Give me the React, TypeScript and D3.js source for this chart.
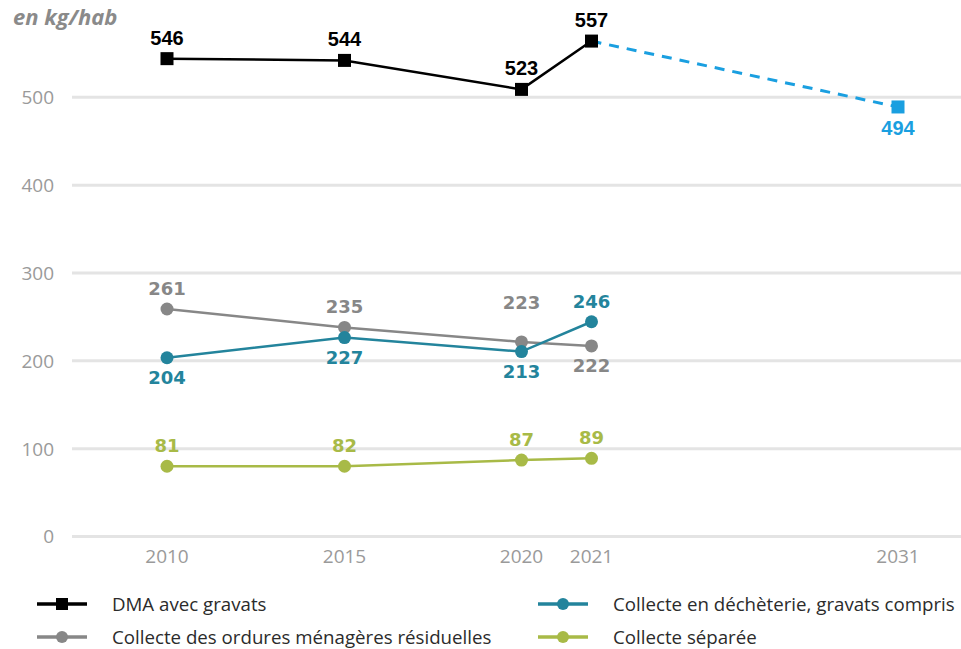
import React from "react";
import * as d3 from "d3";

const years = [2010, 2015, 2020, 2021];
const projYear = 2031;
const xTickYears = [2010, 2015, 2020, 2021, 2031];
const yTicks = [0, 100, 200, 300, 400, 500];

// plotted values and printed labels
const dmaValues = [544, 542, 509, 564];
const dmaLabels = ["546", "544", "523", "557"];
const dmaProj = 489;
const dmaProjLabel = "494";
const omrValues = [259, 238, 221.5, 217];
const omrLabels = ["261", "235", "223", "222"];
const decheterieValues = [203.5, 226.5, 210.5, 244.5];
const decheterieLabels = ["204", "227", "213", "246"];
const separeeValues = [80, 80, 87, 89];
const separeeLabels = ["81", "82", "87", "89"];

const legendNames = [
  "DMA avec gravats",
  "Collecte des ordures ménagères résiduelles",
  "Collecte en déchèterie, gravats compris",
  "Collecte séparée",
];

const W = 961;
const H = 649;

const x = d3
  .scaleLinear()
  .domain(xTickYears)
  .range([167, 344.5, 521.5, 591.5, 898]);
const y = d3.scaleLinear().domain([0, 500]).range([536.5, 97.3]);

const BLACK = "#000000";
const GREY = "#878787";
const TEAL = "#23849c";
const GREEN = "#a8ba47";
const BLUE = "#1a9fe0";

const lineGen = d3
  .line<[number, number]>()
  .x((d) => x(d[0]))
  .y((d) => y(d[1]));

type Series = {
  values: number[];
  labels: string[];
  color: string;
  place: ("a" | "b" | "A")[];
  font: string;
};

const series: Series[] = [
  { values: omrValues, labels: omrLabels, color: GREY, place: ["a", "a", "A", "b"], font: "DejaVu Sans" },
  { values: decheterieValues, labels: decheterieLabels, color: TEAL, place: ["b", "b", "b", "a"], font: "DejaVu Sans" },
  { values: separeeValues, labels: separeeLabels, color: GREEN, place: ["a", "a", "a", "a"], font: "DejaVu Sans" },
];

function labelY(vy: number, p: string) {
  if (p === "a") return vy - 14;
  if (p === "A") return vy - 33;
  return vy + 26;
}

export default function App() {
  const dmaPts: [number, number][] = years.map((yr, i) => [yr, dmaValues[i]]);
  const projPts: [number, number][] = [
    [years[years.length - 1], dmaValues[dmaValues.length - 1]],
    [projYear, dmaProj],
  ];
  return (
    <svg
      width={W}
      height={H}
      style={{ position: "absolute", left: 0, top: 0, background: "#fff" }}
    >
      {/* gridlines */}
      {yTicks.map((t) => (
        <g key={t}>
          <line x1={72} x2={W} y1={y(t)} y2={y(t)} stroke="#e4e4e4" strokeWidth={3} />
          <text
            x={54}
            y={y(t)}
            dy="0.36em"
            textAnchor="end"
            fontFamily="Open Sans"
            fontSize={19}
            fill="#9a9a9a"
          >
            {t}
          </text>
        </g>
      ))}
      {xTickYears.map((t) => (
        <text
          key={t}
          x={x(t)}
          y={556}
          dy="0.36em"
          textAnchor="middle"
          fontFamily="Open Sans"
          fontSize={19}
          fill="#9a9a9a"
        >
          {t}
        </text>
      ))}
      <text
        x={13}
        y={17}
        dy="0.36em"
        fontFamily="Open Sans"
        fontWeight={700}
        fontStyle="italic"
        fontSize={22}
        fill="#8a8a8a"
      >
        en kg/hab
      </text>

      {/* series lines */}
      {series.map((s, si) => (
        <path
          key={si}
          d={lineGen(years.map((yr, i) => [yr, s.values[i]]) as [number, number][]) || ""}
          fill="none"
          stroke={s.color}
          strokeWidth={2.5}
        />
      ))}
      <path d={lineGen(projPts) || ""} fill="none" stroke={BLUE} strokeWidth={3} strokeDasharray="10,8" />
      <path d={lineGen(dmaPts) || ""} fill="none" stroke={BLACK} strokeWidth={2.5} />

      {series.map((s, si) =>
        years.map((yr, i) => (
          <circle key={`${si}-${i}`} cx={x(yr)} cy={y(s.values[i])} r={6.5} fill={s.color} />
        ))
      )}
      {dmaPts.map((d, i) => (
        <rect key={i} x={x(d[0]) - 6.5} y={y(d[1]) - 6.5} width={13} height={13} fill={BLACK} />
      ))}
      <rect x={x(projYear) - 6.5} y={y(dmaProj) - 6.5} width={13} height={13} fill={BLUE} />

      {/* labels */}
      {series.map((s, si) =>
        years.map((yr, i) => (
          <text
            key={`l${si}-${i}`}
            x={x(yr)}
            y={labelY(y(s.values[i]), s.place[i])}
            textAnchor="middle"
            fontFamily={s.font}
            fontWeight={700}
            fontSize={18}
            fill={s.color}
          >
            {s.labels[i]}
          </text>
        ))
      )}
      {dmaPts.map((d, i) => (
        <text
          key={`d${i}`}
          x={x(d[0])}
          y={y(d[1]) - 14}
          textAnchor="middle"
          fontFamily="Liberation Sans"
          fontWeight={700}
          fontSize={20}
          fill={BLACK}
        >
          {dmaLabels[i]}
        </text>
      ))}
      <text
        x={x(projYear)}
        y={y(dmaProj) + 28}
        textAnchor="middle"
        fontFamily="Liberation Sans"
        fontWeight={700}
        fontSize={20}
        fill={BLUE}
      >
        {dmaProjLabel}
      </text>

      {/* legend */}
      {legendNames.map((name, i) => {
        const col = i < 2 ? 0 : 1;
        const row = i % 2;
        const lx = col === 0 ? 37 : 538;
        const ly = row === 0 ? 604 : 637;
        const color = [BLACK, GREY, TEAL, GREEN][i];
        return (
          <g key={name}>
            <line x1={lx} x2={lx + 50} y1={ly} y2={ly} stroke={color} strokeWidth={3.5} />
            {i === 0 ? (
              <rect x={lx + 19} y={ly - 6} width={12} height={12} fill={color} />
            ) : (
              <circle cx={lx + 25} cy={ly} r={6} fill={color} />
            )}
            <text
              x={lx + 75}
              y={ly}
              dy="0.35em"
              fontFamily="Open Sans"
              fontSize={18.7}
              fill="#2b2b2b"
            >
              {name}
            </text>
          </g>
        );
      })}
    </svg>
  );
}
